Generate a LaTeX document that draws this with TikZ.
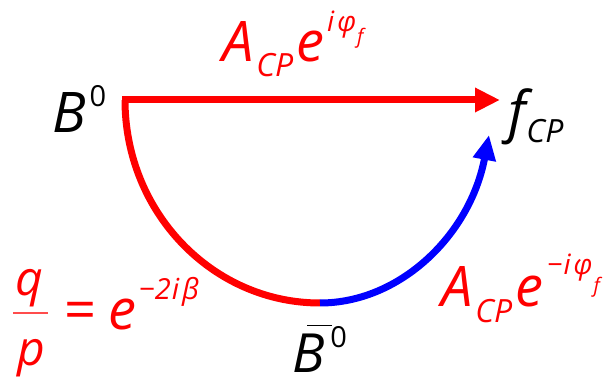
\documentclass[tikz,border=0pt]{standalone}
\usepackage{fontspec}
\setmainfont{Open Sans}
\usetikzlibrary{arrows.meta}
\newcommand{\fsz}[1]{\fontsize{#1}{#1}\selectfont}
\definecolor{ared}{RGB}{255,0,0}
\definecolor{ablue}{RGB}{0,0,255}
\begin{document}
\begin{tikzpicture}[x=1pt,y=1pt,
  lbl/.style={inner sep=0pt, outer sep=0pt, anchor=base west, font=\itshape},
  redlbl/.style={lbl, text=ared},
  blklbl/.style={lbl, text=black},
  conn/.style={line width=7pt},
]
\useasboundingbox (0,0) rectangle (610,385);
% anchor coordinates for connectors
\coordinate (start) at (122,285);
\coordinate (arctop) at (125,285);
\coordinate (bot) at (320,82);
\coordinate (tipf) at (500,285);
\coordinate (tipb) at (489,250);
% state labels
\node[blklbl] (B0) at (52,252) {\fsz{56}B\kern4pt\raisebox{26pt}{\fsz{29}\upshape 0}};
\node[blklbl] (fCP) at (508,253) {\fsz{56}f\kern1pt\raisebox{-11pt}{\fsz{32}CP}};
\node[blklbl] (B0bar) at (292,12) {\fsz{54}\makebox[0pt][l]{\hspace{15pt}\rule[47pt]{25pt}{1.3pt}}B\kern6pt\raisebox{25pt}{\fsz{29}\upshape 0}};
% amplitude labels
\node[redlbl] (Atop) at (222,323) {\fsz{56}A\kern3pt\raisebox{-15pt}{\fsz{32}CP}\kern3pt e\kern3pt\raisebox{30pt}{\fsz{28}i\kern3ptφ\kern1pt\raisebox{-12pt}{\fsz{20}f}}};
\node[redlbl] (Abot) at (441,78) {\fsz{56}A\kern3pt\raisebox{-16pt}{\fsz{32}CP}\kern3pt e\kern4pt\raisebox{32pt}{\fsz{28}−\kern1pt i\kern3ptφ\kern1pt\raisebox{-18pt}{\fsz{20}f}}};
% q/p label
\node[redlbl, anchor=base] (q) at (29,89) {\fsz{48}q};
\node[redlbl, anchor=base] (p) at (31,19) {\fsz{48}p};
\draw[ared!70, line width=1.5pt] (13,72) -- (48,72);
\node[redlbl] (eqn) at (64,55) {\fsz{56}\upshape =\itshape\kern12pt e\kern3pt\raisebox{30pt}{\fsz{29}−2\kern1pt i\kern3ptβ}};
% connectors
\draw[conn, ared, -{Triangle[length=25pt,width=23pt]}] (start) -- (tipf);
\draw[conn, ared] (arctop) arc[start angle=180, end angle=270, x radius=195, y radius=203];
\draw[conn, ablue, -{Triangle[length=25pt,width=22pt]}] (bot) .. controls (400,82) and (470,150) .. (tipb);
\end{tikzpicture}
\end{document}
